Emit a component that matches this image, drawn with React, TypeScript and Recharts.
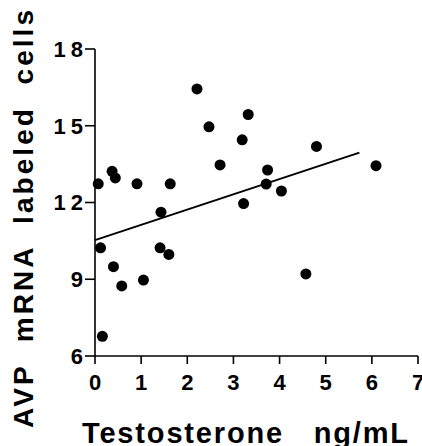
import { ScatterChart, Scatter, XAxis, YAxis, ReferenceLine, Label } from 'recharts';

const testosterone = [0.07, 0.37, 0.44, 0.91, 1.63, 1.43, 2.21, 2.47, 3.32, 3.19, 2.71, 3.74, 3.71, 4.04, 3.22, 4.8, 6.09, 0.12, 0.4, 0.58, 1.05, 1.41, 1.6, 0.16, 4.57];
const avpCells = [12.73, 13.22, 12.96, 12.73, 12.73, 11.62, 16.44, 14.96, 15.44, 14.45, 13.47, 13.27, 12.72, 12.45, 11.96, 14.19, 13.44, 10.23, 9.49, 8.74, 8.97, 10.23, 9.97, 6.77, 9.21];
const fitX = [0, 5.73];
const fitY = [10.53, 13.95];
const xTicks = [0, 1, 2, 3, 4, 5, 6, 7];
const yTicks = [6, 9, 12, 15, 18];

const points = testosterone.map((x, i) => ({ x, y: avpCells[i] }));
const fitSegment = fitX.map((x, i) => ({ x, y: fitY[i] }));

const FONT = '"Liberation Sans", Arial, Helvetica, sans-serif';

const YTick = (props: any) => {
  const { x, y, payload } = props;
  return (
    <text x={x + 3} y={y} dy="0.36em" textAnchor="end" fontFamily={FONT} fontSize={22} fontWeight="bold" letterSpacing={5} fill="#000">
      {payload.value}
    </text>
  );
};

const XTick = (props: any) => {
  const { x, y, payload } = props;
  return (
    <text x={x} y={y} dy={26} textAnchor="middle" fontFamily={FONT} fontSize={22} fontWeight="bold" fill="#000">
      {payload.value}
    </text>
  );
};

const Dot = (props: any) => <circle cx={props.cx} cy={props.cy} r={5.5} fill="#000" />;

const XTitle = () => (
  <text x={82} y={443} fontFamily={FONT} fontSize={29} fontWeight="bold" fill="#000" textLength={326} lengthAdjust="spacing" style={{ whiteSpace: 'pre' }}>
    {'Testosterone   ng/mL'}
  </text>
);

const YTitle = () => (
  <text
    x={33}
    y={219}
    transform="rotate(-90 33 219)"
    textAnchor="middle"
    fontFamily={FONT}
    fontSize={28}
    fontWeight="bold"
    fill="#000"
    textLength={418}
    lengthAdjust="spacing"
    style={{ whiteSpace: 'pre' }}
  >
    {'AVP  mRNA  labeled  cells'}
  </text>
);

export default function App() {
  return (
    <div style={{ position: 'absolute', left: 0, top: 0, background: '#fff' }}>
      <ScatterChart width={422} height={446} margin={{ top: 49, right: 4, bottom: 0, left: 0 }}>
        <XAxis
          type="number"
          dataKey="x"
          domain={[0, 7]}
          ticks={xTicks}
          height={90}
          tickSize={8}
          tickMargin={0}
          tick={<XTick />}
          axisLine={{ stroke: '#000', strokeWidth: 1.6 }}
          tickLine={{ stroke: '#000', strokeWidth: 1.6 }}
        >
          <Label content={<XTitle />} />
        </XAxis>
        <YAxis
          type="number"
          dataKey="y"
          domain={[6, 18]}
          ticks={yTicks}
          width={95}
          tickSize={10}
          tickMargin={0}
          tick={<YTick />}
          axisLine={{ stroke: '#000', strokeWidth: 1.6 }}
          tickLine={{ stroke: '#000', strokeWidth: 1.6 }}
        >
          <Label content={<YTitle />} />
        </YAxis>
        <ReferenceLine segment={fitSegment} stroke="#000" strokeWidth={2} ifOverflow="visible" />
        <Scatter data={points} shape={<Dot />} isAnimationActive={false} />
      </ScatterChart>
    </div>
  );
}
